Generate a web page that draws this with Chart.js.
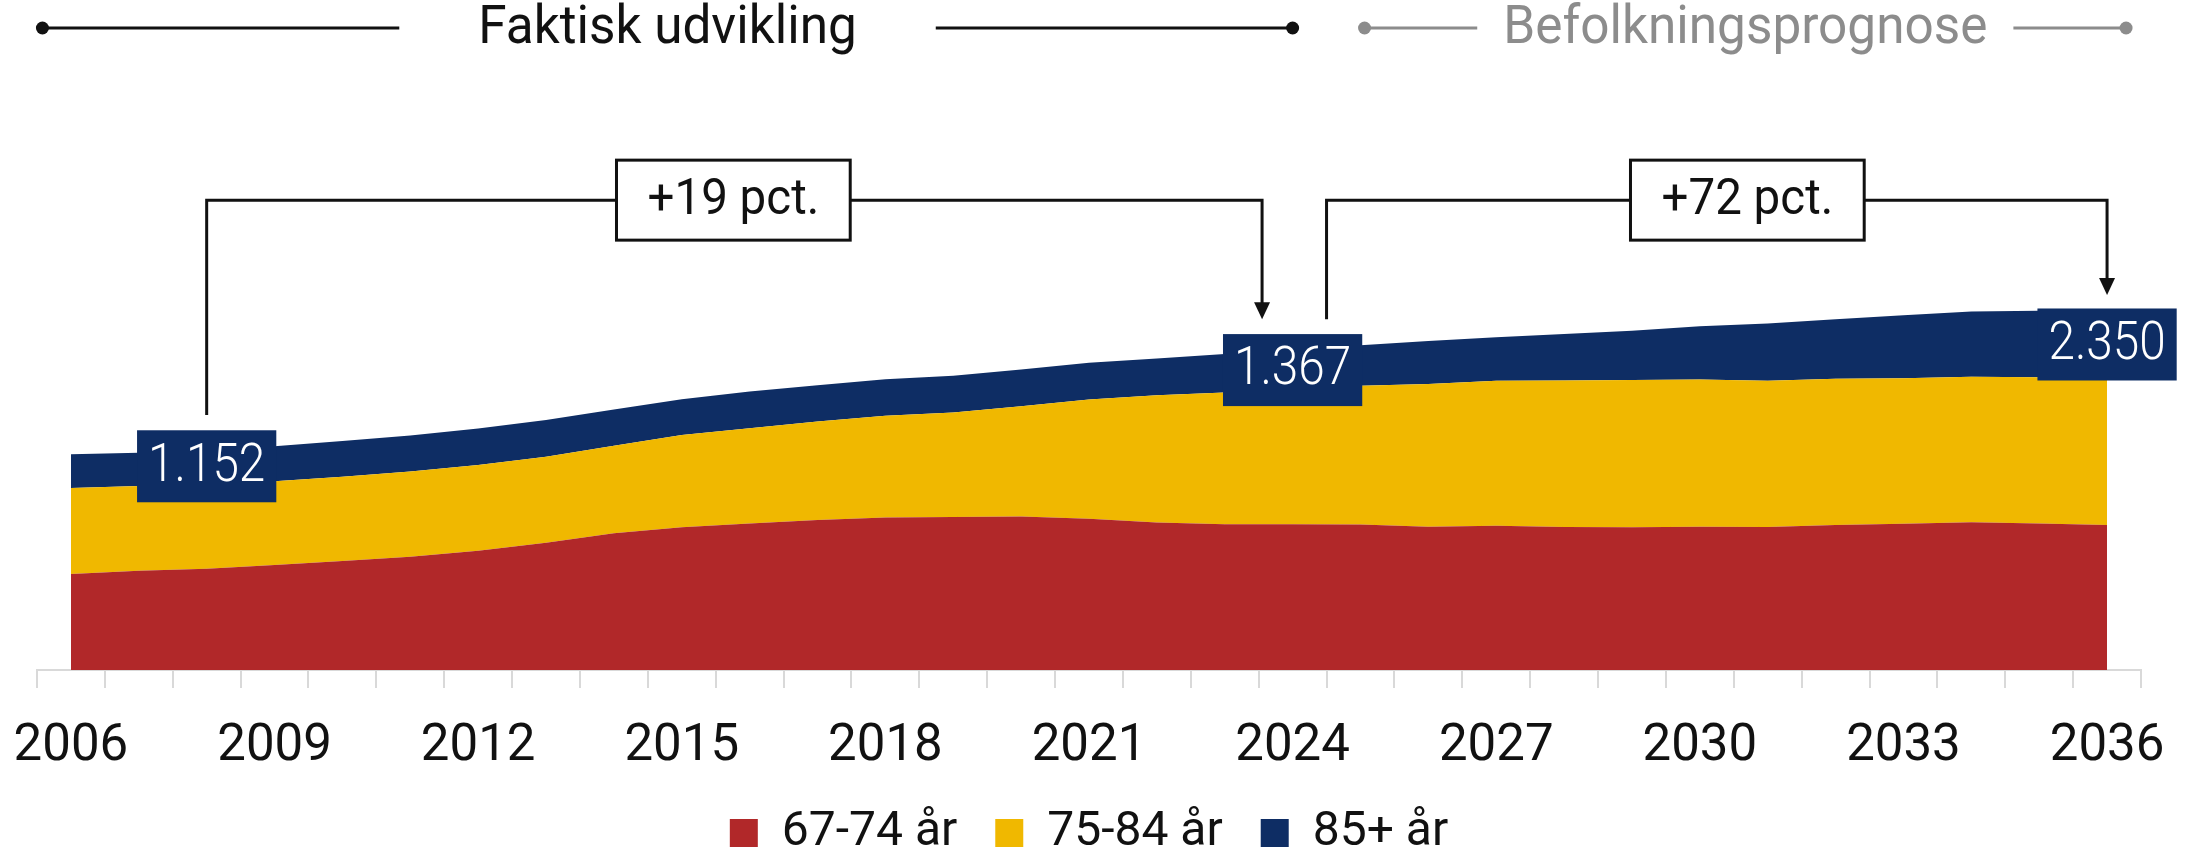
<!DOCTYPE html>
<html>
<head>
<meta charset="utf-8">
<script src="https://cdn.jsdelivr.net/npm/chart.js@4.4.1/dist/chart.umd.min.js"></script>
<style>
  html, body { margin: 0; padding: 0; background: #ffffff; }
  #wrap { width: 2195px; height: 852px; position: relative; }
</style>
</head>
<body>
<div id="wrap"><canvas id="c" width="2195" height="852"></canvas></div>
<script>
// ---------- DATA (thousands) ----------
const years = [2006,2007,2008,2009,2010,2011,2012,2013,2014,2015,2016,2017,2018,2019,2020,
               2021,2022,2023,2024,2025,2026,2027,2028,2029,2030,2031,2032,2033,2034,2035,2036];
const age6774 = [317,328,334,347,360,374,394,420,451,471,484,495,503,505,507,
                 499,487,481,481,480,473,476,472,471,473,472,479,483,488,484,479];
const age7584 = [284,279,282,276,278,281,283,284,289,305,314,325,336,345,364,
                 394,420,435,443,458,471,479,484,486,486,483,482,480,480,482,484];
const age85 =   [111,110,113,116,118,119,120,121,120,118,121,120,121,121,121,
                 121,121,127,132,134,142,143,153,163,176,189,197,208,215,220,223];
const seriesNames = ['67-74 år', '75-84 år', '85+ år'];
const tickYears = [2006,2009,2012,2015,2018,2021,2024,2027,2030,2033,2036];

// value labels on the 85+ band
const valueLabels = [
  {year: 2008, text: '1.152'},
  {year: 2024, text: '1.367'},
  {year: 2036, text: '2.350'}
];
// change brackets (x in category index, y in data units)
const brackets = [
  {xStart: 2,    yStart: 842,  xEnd: 17.55, yEnd: 1158, yTop: 1551, xBox: 9.76,  text: '+19 pct.'},
  {xStart: 18.5, yStart: 1158, xEnd: 30,    yEnd: 1238, yTop: 1551, xBox: 24.7,  text: '+72 pct.'}
];
// header periods (x in category index)
const periods = [
  {from: -0.42, to: 18,    text: 'Faktisk udvikling',   color: '#111111', gap: 79},
  {from: 19.06, to: 30.28, text: 'Befolkningsprognose', color: '#8c8c8c', gap: 26}
];

// ---------- STYLE ----------
const RED = '#B12829', YELLOW = '#F0B800', NAVY = '#0E2D64';
const FONT = 'Roboto';
const CONDENSE = 0.95;

function condText(ctx, text, cx, cy, size, color, weight, condense) {
  ctx.save();
  ctx.font = (weight || 400) + ' ' + size + 'px ' + FONT;
  ctx.fillStyle = color;
  ctx.textAlign = 'center';
  ctx.textBaseline = 'middle';
  const w = ctx.measureText(text).width * (condense || CONDENSE);
  ctx.fillText(text, cx, cy, w);
  ctx.restore();
  return w;
}
function measureCond(ctx, text, size, weight, condense) {
  ctx.save();
  ctx.font = (weight || 400) + ' ' + size + 'px ' + FONT;
  const w = ctx.measureText(text).width * (condense || CONDENSE);
  ctx.restore();
  return w;
}

const annotations = {
  id: 'annotations',
  afterDraw(chart) {
    const ctx = chart.ctx;
    const xs = chart.scales.x, ys = chart.scales.y;
    const px = v => xs.getPixelForValue(v);
    const py = v => ys.getPixelForValue(v);

    // value labels on the 85+ band
    valueLabels.forEach(l => {
      const i = years.indexOf(l.year);
      const cx = px(i);
      const cy = py(age6774[i] + age7584[i] + age85[i] / 2);
      const tw = measureCond(ctx, l.text, 53, 300, 0.9);
      const bw = tw + 22, bh = 72;
      ctx.fillStyle = NAVY;
      ctx.fillRect(cx - bw / 2, cy - bh / 2, bw, bh);
      condText(ctx, l.text, cx, cy + 1, 53, '#ffffff', 300, 0.9);
    });

    // brackets with arrows
    brackets.forEach(b => {
      const x1 = px(b.xStart), y1 = py(b.yStart);
      const x2 = px(b.xEnd), y2 = py(b.yEnd);
      const yt = py(b.yTop);
      const ah = 17, aw = 16;
      ctx.save();
      ctx.strokeStyle = '#111111';
      ctx.lineWidth = 3;
      ctx.lineJoin = 'miter';
      ctx.beginPath();
      ctx.moveTo(x1, y1);
      ctx.lineTo(x1, yt);
      ctx.lineTo(x2, yt);
      ctx.lineTo(x2, y2 - ah + 1);
      ctx.stroke();
      ctx.fillStyle = '#111111';
      ctx.beginPath();
      ctx.moveTo(x2 - aw / 2, y2 - ah);
      ctx.lineTo(x2 + aw / 2, y2 - ah);
      ctx.lineTo(x2, y2);
      ctx.closePath();
      ctx.fill();
      // label box
      const tw = measureCond(ctx, b.text, 50, 400);
      const bw = tw + 62, bh = 80;
      const bx = px(b.xBox);
      ctx.fillStyle = '#ffffff';
      ctx.fillRect(bx - bw / 2, yt - bh / 2, bw, bh);
      ctx.lineWidth = 3;
      ctx.strokeRect(bx - bw / 2, yt - bh / 2, bw, bh);
      ctx.restore();
      condText(ctx, b.text, bx, yt + 1, 50, '#111111', 400);
    });

    // header periods
    const HY = 28;
    periods.forEach(p => {
      const x1 = px(p.from), x2 = px(p.to);
      const cx = (x1 + x2) / 2;
      const tw = measureCond(ctx, p.text, 54, 400);
      ctx.save();
      ctx.strokeStyle = p.color;
      ctx.fillStyle = p.color;
      ctx.lineWidth = 3;
      ctx.beginPath();
      ctx.moveTo(x1, HY); ctx.lineTo(cx - tw / 2 - p.gap, HY);
      ctx.moveTo(cx + tw / 2 + p.gap, HY); ctx.lineTo(x2, HY);
      ctx.stroke();
      [x1, x2].forEach(xx => { ctx.beginPath(); ctx.arc(xx, HY, 6.5, 0, Math.PI * 2); ctx.fill(); });
      ctx.restore();
      condText(ctx, p.text, cx, HY + 1, 54, p.color, 400);
    });
  }
};

Chart.defaults.font.family = FONT;
Chart.defaults.color = '#111111';

new Chart(document.getElementById('c'), {
  type: 'line',
  data: {
    labels: years.map(String),
    datasets: [
      {label: seriesNames[0], data: age6774, backgroundColor: RED,    borderColor: RED,    fill: 'origin', borderWidth: 0, pointRadius: 0, tension: 0},
      {label: seriesNames[1], data: age7584, backgroundColor: YELLOW, borderColor: YELLOW, fill: '-1',     borderWidth: 0, pointRadius: 0, tension: 0},
      {label: seriesNames[2], data: age85,   backgroundColor: NAVY,   borderColor: NAVY,   fill: '-1',     borderWidth: 0, pointRadius: 0, tension: 0}
    ]
  },
  options: {
    responsive: false,
    animation: false,
    layout: {padding: {top: 155, left: 37, right: 54, bottom: -15}},
    plugins: {
      tooltip: {enabled: false},
      legend: {
        position: 'bottom',
        labels: {
          boxWidth: 28, boxHeight: 28, padding: 38,
          color: '#111111',
          font: {family: FONT, size: 48}
        }
      }
    },
    scales: {
      x: {
        offset: true,
        grid: {display: true, drawOnChartArea: false, drawTicks: true, tickLength: 18, color: '#d9d9d9', lineWidth: 2, offset: true},
        border: {display: true, color: '#d9d9d9', width: 2},
        ticks: {
          autoSkip: false, maxRotation: 0, minRotation: 0, padding: 29,
          color: '#111111',
          font: {family: FONT, size: 51},
          callback: function(v, i) { const yr = years[i]; return tickYears.includes(yr) ? String(yr) : ''; }
        },
        afterFit: function(s) { s.height = 101; s.paddingLeft = 0; s.paddingRight = 0; }
      },
      y: {stacked: true, min: 0, max: 1700, display: false}
    }
  },
  plugins: [annotations]
});
</script>
</body>
</html>
